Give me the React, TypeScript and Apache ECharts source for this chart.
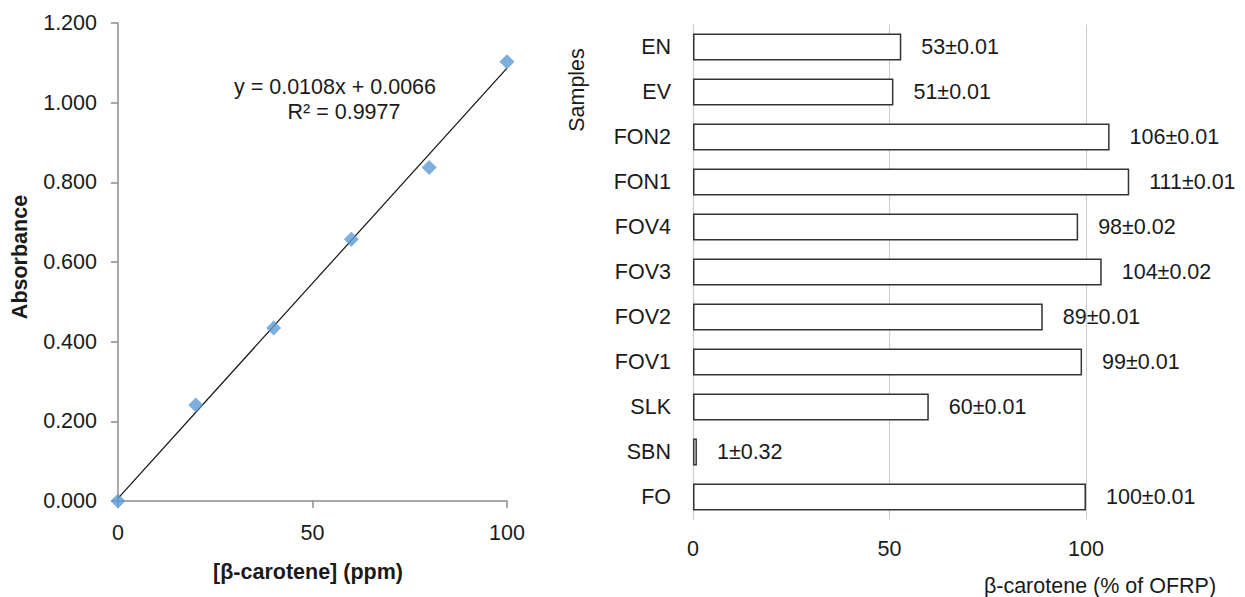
import React, { useEffect, useRef } from "react";
import * as echarts from "echarts";

// Calibration (left chart)
const concentrations = [0, 20, 40, 60, 80, 100];
const absorbances = [0.0, 0.241, 0.434, 0.657, 0.837, 1.103];
const slope = 0.0108;
const intercept = 0.0066;
const trendRange = [0, 100];
const equationText = "y = 0.0108x + 0.0066";
const r2Text = "R² = 0.9977";

// Bars (right chart), bottom to top
const samples = ["FO", "SBN", "SLK", "FOV1", "FOV2", "FOV3", "FOV4", "FON1", "FON2", "EV", "EN"];
const values = [100, 1, 60, 99, 89, 104, 98, 111, 106, 51, 53];
const errors = ["0.01", "0.32", "0.01", "0.01", "0.01", "0.02", "0.02", "0.01", "0.01", "0.01", "0.01"];

const FONT = "Liberation Sans, Arial, Helvetica, sans-serif";
const TXT = "#1a1a1a";
const FS = 21.5;

export default function App() {
  const ref = useRef<HTMLDivElement>(null);
  useEffect(() => {
    if (!ref.current) return;
    const chart = echarts.init(ref.current, undefined, { renderer: "svg" });
    const trend = trendRange.map((x) => [x, slope * x + intercept]);
    const txt = (text: string, x: number, y: number, extra: any = {}, rot = 0) => ({
      type: "text",
      x,
      y,
      rotation: rot,
      style: {
        text,
        fontSize: FS,
        fill: TXT,
        fontFamily: FONT,
        align: "center",
        verticalAlign: "middle",
        ...extra,
      },
    });
    chart.setOption({
      animation: false,
      textStyle: { fontFamily: FONT },
      grid: [
        { left: 118, right: 738, top: 23, bottom: 96 },
        { left: 693, right: 0, top: 24.5, bottom: 77.5 },
      ],
      xAxis: [
        {
          gridIndex: 0,
          type: "value",
          min: 0,
          max: 100,
          interval: 50,
          axisLine: { show: true, lineStyle: { color: "#8c8c8c", width: 1.5 } },
          axisTick: { show: true, length: 7, lineStyle: { color: "#8c8c8c", width: 1.5 } },
          axisLabel: { fontSize: FS, color: TXT, margin: 21, fontFamily: FONT },
          splitLine: { show: false },
        },
        {
          gridIndex: 1,
          type: "value",
          min: 0,
          max: 552 / 3.93,
          interval: 50,
          axisLine: { show: false },
          axisTick: { show: false },
          axisLabel: {
            fontSize: FS,
            color: TXT,
            margin: 18,
            fontFamily: FONT,
            showMaxLabel: false,
            formatter: (v: number) => (v % 50 === 0 ? String(v) : ""),
          },
          splitLine: { show: true, showMaxLine: false, lineStyle: { color: "#d0d0d0", width: 1.2 } },
        },
      ],
      yAxis: [
        {
          gridIndex: 0,
          type: "value",
          min: 0,
          max: 1.2,
          interval: 0.2,
          axisLine: { show: true, lineStyle: { color: "#8c8c8c", width: 1.5 } },
          axisTick: { show: true, length: 7, lineStyle: { color: "#8c8c8c", width: 1.5 } },
          axisLabel: {
            fontSize: FS,
            color: TXT,
            margin: 21,
            fontFamily: FONT,
            formatter: (v: number) => v.toFixed(3),
          },
          splitLine: { show: false },
        },
        {
          gridIndex: 1,
          type: "category",
          data: samples,
          axisLine: { show: true, lineStyle: { color: "#d0d0d0", width: 1.2 } },
          axisTick: { show: false },
          axisLabel: { fontSize: FS, color: TXT, margin: 22, fontFamily: FONT },
          splitLine: { show: false },
        },
      ],
      series: [
        {
          type: "line",
          xAxisIndex: 0,
          yAxisIndex: 0,
          data: trend,
          showSymbol: false,
          symbol: "none",
          lineStyle: { color: "#111", width: 1.2 },
          z: 2,
        },
        {
          type: "scatter",
          xAxisIndex: 0,
          yAxisIndex: 0,
          data: concentrations.map((c, i) => [c, absorbances[i]]),
          symbol: "diamond",
          symbolSize: 15,
          itemStyle: { color: "#5b9bd5" },
          z: 3,
        },
        {
          type: "bar",
          xAxisIndex: 1,
          yAxisIndex: 1,
          data: values,
          barWidth: 27,
          itemStyle: { color: "#ffffff", borderColor: "#333", borderWidth: 1.5 },
          label: {
            show: true,
            position: "right",
            distance: 20,
            fontSize: FS,
            color: TXT,
            fontFamily: FONT,
            formatter: (p: any) => `${values[p.dataIndex]}±${errors[p.dataIndex]}`,
          },
          z: 3,
        },
      ],
      graphic: [
        txt(equationText, 335, 87),
        txt(r2Text, 344, 112),
        txt("Absorbance", 20, 257, { fontWeight: "bold" }, Math.PI / 2),
        txt("[β-carotene] (ppm)", 308, 572, { fontWeight: "bold" }),
        txt("Samples", 577, 90, {}, Math.PI / 2),
        txt("β-carotene (% of OFRP)", 1100, 586),
      ],
    });
    return () => chart.dispose();
  }, []);
  return (
    <div
      ref={ref}
      style={{ position: "absolute", left: 0, top: 0, width: 1245, height: 597 }}
    />
  );
}
